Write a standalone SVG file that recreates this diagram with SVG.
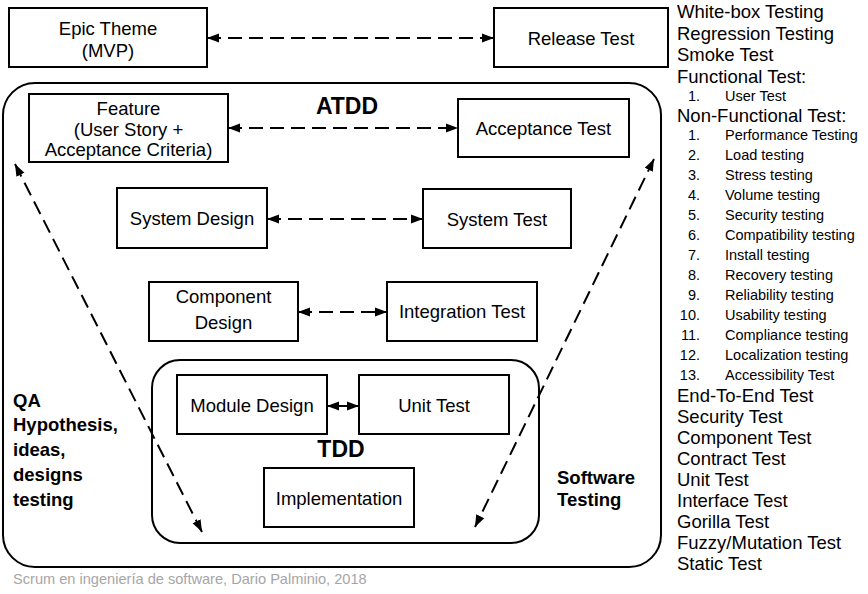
<svg xmlns="http://www.w3.org/2000/svg" width="868" height="594" viewBox="0 0 868 594">
<style>
  .box { fill: #fff; stroke: #000; stroke-width: 2; }
  .frame { fill: none; stroke: #000; stroke-width: 2; }
  .t { font-family: "Liberation Sans", Arial, sans-serif; font-size: 18.5px; fill: #000; }
  .c { text-anchor: middle; }
  .b { font-weight: bold; }
  .sm { font-family: "Liberation Sans", Arial, sans-serif; font-size: 14.5px; fill: #000; }
  .num { text-anchor: end; }
  .foot { font-family: "Liberation Sans", Arial, sans-serif; font-size: 14.6px; fill: #a6a6a6; }
  .conn { fill: none; stroke: #000; stroke-width: 2; stroke-dasharray: 14 7; marker-start: url(#ah); marker-end: url(#ah); }
  .solid { stroke-dasharray: none; }
</style>
<defs>
  <marker id="ah" markerUnits="userSpaceOnUse" markerWidth="13" markerHeight="10" refX="12" refY="5" orient="auto-start-reverse">
    <path d="M0,0.5 L12,5 L0,9.5 z" fill="#000"/>
  </marker>
</defs>

<rect width="868" height="594" fill="#fff"/>

<g id="software-testing-frame">
  <rect class="frame" x="3" y="83" width="658" height="484" rx="32" ry="32"/>
  <text class="t b" x="347" y="113.5" text-anchor="middle" style="font-size:23px">ATDD</text>
  <text class="t b" x="557" y="484">Software</text>
  <text class="t b" x="557" y="506">Testing</text>
</g>

<g id="qa-label">
  <text class="t b" x="13" y="407">QA</text>
  <text class="t b" x="13" y="431">Hypothesis,</text>
  <text class="t b" x="13" y="456">ideas,</text>
  <text class="t b" x="13" y="481">designs</text>
  <text class="t b" x="13" y="506">testing</text>
</g>

<g id="tdd-frame">
  <rect class="frame" x="152" y="360" width="387" height="183" rx="28" ry="28"/>
  <text class="t b" x="341" y="457" text-anchor="middle" style="font-size:23px">TDD</text>
</g>

<g id="epic">
  <rect class="box" x="9" y="8" width="198" height="59"/>
  <text class="t c" x="108" y="34.5">Epic Theme</text>
  <text class="t c" x="108" y="57">(MVP)</text>
</g>
<g id="release">
  <rect class="box" x="494" y="8" width="174" height="59"/>
  <text class="t c" x="581" y="44.5">Release Test</text>
</g>
<g id="feature">
  <rect class="box" x="29" y="94" width="199" height="68"/>
  <text class="t c" x="128.5" y="115">Feature</text>
  <text class="t c" x="128.5" y="135.5">(User Story +</text>
  <text class="t c" x="128.5" y="156">Acceptance Criteria)</text>
</g>
<g id="acceptance">
  <rect class="box" x="458" y="99" width="171" height="58"/>
  <text class="t c" x="543.5" y="135">Acceptance Test</text>
</g>
<g id="system-design">
  <rect class="box" x="117" y="188" width="150" height="60"/>
  <text class="t c" x="192" y="225">System Design</text>
</g>
<g id="system-test">
  <rect class="box" x="423" y="189" width="148" height="59"/>
  <text class="t c" x="497" y="225.5">System Test</text>
</g>
<g id="component-design">
  <rect class="box" x="149" y="282" width="149" height="59"/>
  <text class="t c" x="223.5" y="303">Component</text>
  <text class="t c" x="223.5" y="329">Design</text>
</g>
<g id="integration-test">
  <rect class="box" x="387" y="282" width="150" height="59"/>
  <text class="t c" x="462" y="318">Integration Test</text>
</g>
<g id="module-design">
  <rect class="box" x="177" y="375" width="150" height="59"/>
  <text class="t c" x="252" y="411.5">Module Design</text>
</g>
<g id="unit-test">
  <rect class="box" x="359" y="375" width="150" height="59"/>
  <text class="t c" x="434" y="411.5">Unit Test</text>
</g>
<g id="implementation">
  <rect class="box" x="264" y="468" width="150" height="59"/>
  <text class="t c" x="339" y="504.5">Implementation</text>
</g>

<g id="connectors">
  <line class="conn" x1="207" y1="38" x2="494" y2="38"/>
  <line class="conn" x1="228" y1="128" x2="458" y2="128"/>
  <line class="conn" x1="267" y1="219" x2="423" y2="219"/>
  <line class="conn" x1="298" y1="312" x2="387" y2="312"/>
  <line class="conn solid" x1="327" y1="406" x2="359" y2="406"/>
  <line class="conn" x1="15" y1="164" x2="202" y2="532"/>
  <line class="conn" x1="654" y1="159" x2="475" y2="527"/>
</g>

<g id="test-types-list">
  <text class="t" x="677" y="17.5">White-box Testing</text>
  <text class="t" x="677" y="39.5">Regression Testing</text>
  <text class="t" x="677" y="61">Smoke Test</text>
  <text class="t" x="677" y="83">Functional Test:</text>
  <text class="sm num" x="700" y="101">1.</text>
  <text class="sm" x="725" y="101">User Test</text>
  <text class="t" x="677" y="122">Non-Functional Test:</text>
  <text class="sm num" x="700" y="140">1.</text><text class="sm" x="725" y="140">Performance Testing</text>
  <text class="sm num" x="700" y="160">2.</text><text class="sm" x="725" y="160">Load testing</text>
  <text class="sm num" x="700" y="180">3.</text><text class="sm" x="725" y="180">Stress testing</text>
  <text class="sm num" x="700" y="200">4.</text><text class="sm" x="725" y="200">Volume testing</text>
  <text class="sm num" x="700" y="220">5.</text><text class="sm" x="725" y="220">Security testing</text>
  <text class="sm num" x="700" y="240">6.</text><text class="sm" x="725" y="240">Compatibility testing</text>
  <text class="sm num" x="700" y="260">7.</text><text class="sm" x="725" y="260">Install testing</text>
  <text class="sm num" x="700" y="280">8.</text><text class="sm" x="725" y="280">Recovery testing</text>
  <text class="sm num" x="700" y="300">9.</text><text class="sm" x="725" y="300">Reliability testing</text>
  <text class="sm num" x="700" y="320">10.</text><text class="sm" x="725" y="320">Usability testing</text>
  <text class="sm num" x="700" y="340">11.</text><text class="sm" x="725" y="340">Compliance testing</text>
  <text class="sm num" x="700" y="360">12.</text><text class="sm" x="725" y="360">Localization testing</text>
  <text class="sm num" x="700" y="380">13.</text><text class="sm" x="725" y="380">Accessibility Test</text>
  <text class="t" x="677" y="401.5">End-To-End Test</text>
  <text class="t" x="677" y="422.5">Security Test</text>
  <text class="t" x="677" y="443.5">Component Test</text>
  <text class="t" x="677" y="464.5">Contract Test</text>
  <text class="t" x="677" y="485.5">Unit Test</text>
  <text class="t" x="677" y="506.5">Interface Test</text>
  <text class="t" x="677" y="527.5">Gorilla Test</text>
  <text class="t" x="677" y="548.5">Fuzzy/Mutation Test</text>
  <text class="t" x="677" y="569.5">Static Test</text>
</g>

<text class="foot" x="13" y="584">Scrum en ingeniería de software, Dario Palminio, 2018</text>
</svg>
